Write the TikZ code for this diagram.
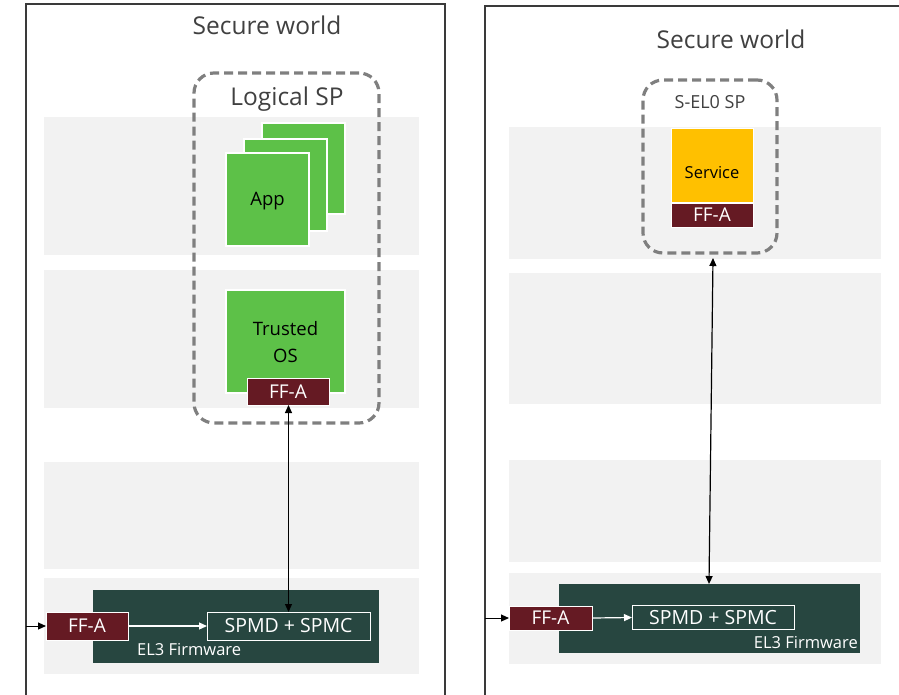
\documentclass[tikz,border=0pt]{standalone}
\usepackage{fontspec}
\setmainfont{Open Sans}
\usetikzlibrary{arrows.meta,calc}
\definecolor{band}{HTML}{F2F2F2}
\definecolor{frame}{HTML}{3A3A3A}
\definecolor{dashgray}{HTML}{7F7F7F}
\definecolor{spgreen}{HTML}{5DC148}
\definecolor{ffamaroon}{HTML}{651A23}
\definecolor{fwteal}{HTML}{274640}
\definecolor{svcorange}{HTML}{FFC000}
\definecolor{titlegray}{HTML}{404040}
\tikzset{
  sz/.style 2 args={minimum width=#1pt,minimum height=#2pt,inner sep=0pt,outer sep=0pt},
  panelframe/.style={draw=frame,line width=1.5pt},
  bandbox/.style={fill=band,draw=none},
  spgroup/.style={draw=dashgray,line width=3.2pt,dash pattern=on 9pt off 5pt,rounded corners=20pt},
  greenbox/.style={fill=spgreen,draw=white,line width=1.2pt,align=center,font=\fontsize{18.5}{27}\selectfont},
  ffabox/.style={fill=ffamaroon,draw=white,line width=1pt,text=white,font=\fontsize{19}{22}\selectfont},
  fwbox/.style={fill=fwteal,draw=none},
  spmbox/.style={draw=white,line width=1pt,text=white,font=\fontsize{19.5}{22}\selectfont},
  fwlabel/.style={text=white,inner sep=0pt,font=\fontsize{16.5}{20}\selectfont},
  title/.style={text=titlegray,inner sep=0pt,font=\fontsize{24.5}{28}\selectfont},
  link/.style={line width=1.2pt,{Triangle[length=8pt,width=7pt]}-{Triangle[length=8pt,width=7pt]}},
  entry/.style={line width=1pt,-{Triangle[length=8pt,width=7pt]}},
  inner/.style={draw=white,line width=1.2pt,-{Triangle[length=8pt,width=7pt]}},
}
\begin{document}
\begin{tikzpicture}[x=1pt,y=-1pt]
\useasboundingbox (0,0) rectangle (899,694);
\clip (0,0) rectangle (899,694);

% ---------------- left panel: Logical SP ----------------
\fill[bandbox] (44,117) rectangle (419,255);
\fill[bandbox] (44,270) rectangle (419,408);
\fill[bandbox] (44,462) rectangle (419,569);
\fill[bandbox] (44,578) rectangle (419,674);
\draw[panelframe] (26,710) -- (26,4) -- (445,4) -- (445,710);

\node[title] (titleA) at (267,25) {Secure world};

\node[spgroup,sz={185}{350}] (lsp) at (286.5,248) {};
\node[title] (lspLabel) at (287,99) {Logical SP};

\node[greenbox,sz={83}{91}] (app3) at (303.5,168.5) {};
\node[greenbox,sz={83}{92}] (app2) at (285.5,185) {};
\node[greenbox,sz={83}{93}] (app1) at (267.5,199.5) {};
\node[font=\fontsize{18.5}{22}\selectfont,inner sep=0pt] (appText) at (267.5,201) {App};

\node[greenbox,sz={119}{103}] (tos) at (285.5,341.5) {};
\node[align=center,inner sep=0pt,font=\fontsize{18.5}{27.5}\selectfont] (tosText) at (285.5,342) {Trusted\\OS};
\node[ffabox,sz={82}{27}] (ffaA) at (288,391.5) {FF-A};

\node[fwbox,sz={286}{73}] (el3A) at (236,626.5) {};
\node[fwlabel,anchor=west] (el3Alabel) at (137,650) {EL3 Firmware};
\node[ffabox,sz={82}{28}] (ffaB) at (87,626) {FF-A};
\node[spmbox,sz={163}{28}] (spmA) at (288.5,626) {SPMD + SPMC};

\coordinate (inA) at (26,626);
\draw[entry] (inA) -- (ffaB.west);
\draw[inner] (ffaB.east) -- (spmA.west);
\draw[link] (ffaA.south -| spmA.north) -- (spmA.north);

% ---------------- right panel: S-EL0 SP ----------------
\fill[bandbox] (509,127) rectangle (881,259);
\fill[bandbox] (509,273) rectangle (881,404);
\fill[bandbox] (509,460) rectangle (881,562);
\fill[bandbox] (509,573) rectangle (881,664);
\draw[panelframe] (485,710) -- (485,6) -- (910,6);

\node[title] (titleB) at (731,39) {Secure world};

\node[spgroup,sz={134}{173}] (sel0) at (710,166.5) {};
\node[text=titlegray,inner sep=0pt,font=\fontsize{18}{22}\selectfont] (sel0Label) at (710,102.5) {S-EL0 SP};

\node[fill=svcorange,draw=white,line width=1pt,sz={82}{74}] (svc) at (712,165) {};
\node[inner sep=0pt,font=\fontsize{16.5}{20}\selectfont] (svcText) at (712,173) {Service};
\node[ffabox,sz={82}{24}] (ffaC) at (712,215) {FF-A};

\node[fwbox,sz={301}{69}] (el3B) at (709.5,618.5) {};
\node[fwlabel,anchor=east] (el3Blabel) at (858,643) {EL3 Firmware};
\node[ffabox,sz={83}{24}] (ffaD) at (550.5,618) {FF-A};
\node[spmbox,sz={162}{24}] (spmB) at (713,617.5) {SPMD + SPMC};

\coordinate (inB) at (485,618);
\draw[entry] (inB) -- (ffaD.west);
\draw[inner] (ffaD.east) -- (spmB.west);
\draw[link] ($(sel0.south)+(3,5)$) -- ($(el3B.north)+(-0.5,0)$);
\end{tikzpicture}
\end{document}
